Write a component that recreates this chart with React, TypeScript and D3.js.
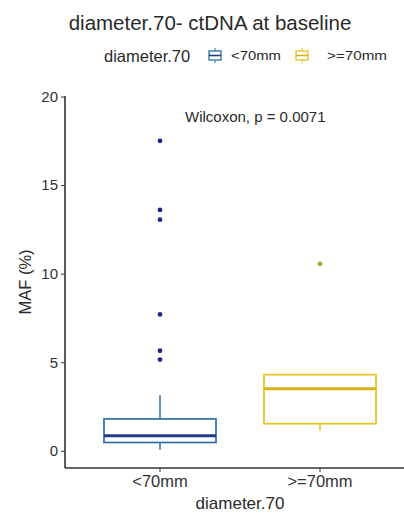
import { useEffect, useRef } from "react";
import * as d3 from "d3";

const W = 404;
const H = 513;
const MARGIN = { top: 96, right: 0, bottom: 45, left: 65 };

const groups = ["<70mm", ">=70mm"];
const groupColors = ["#2f6fa8", "#e4c31c"];
const medianColors = ["#1f3c8a", "#d6b21e"];
const pointColors = ["#1c2a84", "#b9a12a"];
const lowerWhisker = [0.06, 1.15];
const q1 = [0.47, 1.53];
const median = [0.85, 3.5];
const q3 = [1.8, 4.3];
const upperWhisker = [3.13, 4.3];
const outliersSmall = [17.5, 13.6, 13.05, 7.7, 5.65, 5.15];
const outliersLarge = [10.55];
const yTicks = [0, 5, 10, 15, 20];

const App = () => {
  const ref = useRef<SVGSVGElement>(null);

  useEffect(() => {
    const svg = d3.select(ref.current);
    svg.selectAll("*").remove();
    const font = "Liberation Sans, Arial, sans-serif";

    // box centres at ~160 and ~320, box width ~112
    const x = d3
      .scaleBand()
      .domain(groups)
      .range([80, 400])
      .paddingInner(0.3)
      .paddingOuter(0.15);
    const y = d3
      .scaleLinear()
      .domain([-0.97, 20.03])
      .range([H - MARGIN.bottom, MARGIN.top]);

    // title
    svg
      .append("text")
      .attr("x", 210)
      .attr("y", 30)
      .attr("text-anchor", "middle")
      .attr("font-family", font)
      .attr("font-size", 20.5)
      .attr("fill", "#2a2a2a")
      .text("diameter.70- ctDNA at baseline");

    // legend
    const lg = svg.append("g").attr("font-family", font).attr("fill", "#2a2a2a");
    lg.append("text").attr("x", 104).attr("y", 62).attr("font-size", 16.5).text("diameter.70");
    const keys = [208, 295];
    const labelsX = [231, 327];
    const labelW = [50, 60];
    groups.forEach((g, i) => {
      const k = lg.append("g").attr("transform", `translate(${keys[i]},48)`);
      k.append("line").attr("x1", 7).attr("x2", 7).attr("y1", 0).attr("y2", 15).attr("stroke", groupColors[i]);
      k.append("rect")
        .attr("x", 1)
        .attr("y", 3)
        .attr("width", 12)
        .attr("height", 9)
        .attr("fill", "white")
        .attr("stroke", groupColors[i])
        .attr("stroke-width", 1.3);
      k.append("line").attr("x1", 1).attr("x2", 13).attr("y1", 7.5).attr("y2", 7.5).attr("stroke", medianColors[i]).attr("stroke-width", 1.6);
      lg.append("text")
        .attr("x", labelsX[i])
        .attr("y", 60)
        .attr("font-size", 12)
        .attr("textLength", labelW[i])
        .attr("lengthAdjust", "spacingAndGlyphs")
        .text(g);
    });

    // boxes
    groups.forEach((g, i) => {
      const x0 = x(g)!;
      const bw = x.bandwidth();
      const cx = x0 + bw / 2;
      const c = groupColors[i];
      svg.append("line").attr("x1", cx).attr("x2", cx).attr("y1", y(q3[i])).attr("y2", y(upperWhisker[i])).attr("stroke", c).attr("stroke-width", 1.5);
      svg.append("line").attr("x1", cx).attr("x2", cx).attr("y1", y(q1[i])).attr("y2", y(lowerWhisker[i])).attr("stroke", c).attr("stroke-width", 1.5);
      svg
        .append("rect")
        .attr("x", x0)
        .attr("y", y(q3[i]))
        .attr("width", bw)
        .attr("height", y(q1[i]) - y(q3[i]))
        .attr("fill", "white")
        .attr("stroke", c)
        .attr("stroke-width", 1.7);
      svg
        .append("line")
        .attr("x1", x0)
        .attr("x2", x0 + bw)
        .attr("y1", y(median[i]))
        .attr("y2", y(median[i]))
        .attr("stroke", medianColors[i])
        .attr("stroke-width", 3);
      const outs = i === 0 ? outliersSmall : outliersLarge;
      svg
        .append("g")
        .selectAll("circle")
        .data(outs)
        .join("circle")
        .attr("cx", cx)
        .attr("cy", (d) => y(d))
        .attr("r", 2.4)
        .attr("fill", pointColors[i]);
    });

    // axes
    const yAxis = svg
      .append("g")
      .attr("transform", `translate(${MARGIN.left},0)`)
      .call(d3.axisLeft(y).tickValues(yTicks).tickSize(4).tickPadding(3));
    yAxis.select(".domain").attr("stroke", "#333").attr("stroke-width", 1.6).attr("d", `M0,${MARGIN.top}V${H - MARGIN.bottom}`);
    yAxis.selectAll("text").attr("font-size", 15).attr("font-family", font).attr("fill", "#333");
    yAxis.selectAll("line").attr("stroke", "#333");

    const xAxis = svg
      .append("g")
      .attr("transform", `translate(0,${H - MARGIN.bottom})`)
      .call(d3.axisBottom(x).tickSize(4).tickPadding(3));
    xAxis.select(".domain").attr("stroke", "#333").attr("stroke-width", 1.6).attr("d", `M${MARGIN.left},0H${W}`);
    xAxis.selectAll("text").attr("font-size", 16.5).attr("font-family", font).attr("fill", "#333");
    xAxis.selectAll("line").attr("stroke", "#333");

    // axis titles
    svg
      .append("text")
      .attr("x", 240)
      .attr("y", 509)
      .attr("text-anchor", "middle")
      .attr("font-family", font)
      .attr("font-size", 17)
      .attr("fill", "#2a2a2a")
      .text("diameter.70");
    svg
      .append("text")
      .attr("transform", `translate(31,282) rotate(-90)`)
      .attr("text-anchor", "middle")
      .attr("font-family", font)
      .attr("font-size", 16.5)
      .attr("fill", "#2a2a2a")
      .text("MAF (%)");

    // test annotation
    svg
      .append("text")
      .attr("x", 185)
      .attr("y", 122)
      .attr("font-family", font)
      .attr("font-size", 15)
      .attr("fill", "#2a2a2a")
      .text("Wilcoxon, p = 0.0071");
  }, []);

  return (
    <div style={{ position: "absolute", left: 0, top: 0 }}>
      <svg ref={ref} width={W} height={H} style={{ display: "block", background: "white" }} />
    </div>
  );
};

export default App;
